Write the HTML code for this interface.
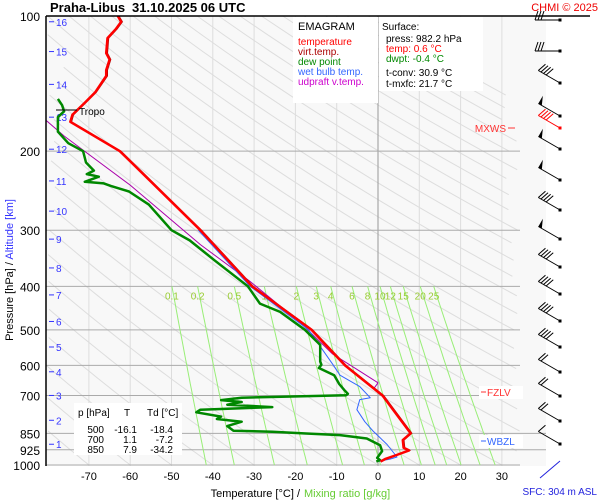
<!DOCTYPE html>
<html><head><meta charset="utf-8"><style>
body{margin:0;background:#fff;}
svg{display:block;font-family:"Liberation Sans",sans-serif;}
</style></head><body>
<svg id="c" width="600" height="500" viewBox="0 0 600 500">
<rect x="0" y="0" width="600" height="500" fill="#fff"/>
<rect x="46" y="16" width="500" height="450" fill="#f8f8f8"/>
<g id="grid"></g><g id="series"></g><g id="barbs"></g>
<line x1="46" y1="16" x2="46" y2="466" stroke="#000" stroke-width="1.5"/>
<line x1="46" y1="16" x2="590" y2="16" stroke="#000" stroke-width="1.5"/>
<text x="50" y="12" font-size="13" font-weight="bold">Praha-Libus</text>
<text x="132" y="12" font-size="13" font-weight="bold">31.10.2025 06 UTC</text>
<text x="598" y="11" font-size="11" fill="#e00" text-anchor="end">CHMI © 2025</text>
<g>
<rect x="293" y="17" width="85" height="86" fill="#fff"/>
<text x="298" y="30" font-size="11">EMAGRAM</text>
<text x="298" y="45" font-size="10" fill="#f00">temperature</text>
<text x="298" y="55" font-size="10" fill="#a00">virt.temp.</text>
<text x="298" y="65" font-size="10" fill="#080">dew point</text>
<text x="298" y="75" font-size="10" fill="#36f">wet bulb temp.</text>
<text x="298" y="85" font-size="10" fill="#c0c">udpraft v.temp.</text>
</g>
<g>
<rect x="379" y="17" width="104" height="74" fill="#fff"/>
<text x="382" y="30" font-size="10">Surface:</text>
<text x="386" y="42" font-size="10">press: 982.2 hPa</text>
<text x="386" y="52" font-size="10" fill="#f00">temp: 0.6 °C</text>
<text x="386" y="62" font-size="10" fill="#080">dwpt: -0.4 °C</text>
<text x="386" y="76" font-size="10">t-conv: 30.9 °C</text>
<text x="386" y="87" font-size="10">t-mxfc: 21.7 °C</text>
</g>
<g>
<rect x="74" y="403" width="108" height="52" fill="#fff"/>
<text x="78" y="416" font-size="10">p [hPa]</text><text x="124" y="416" font-size="10">T</text><text x="147" y="416" font-size="10">Td [°C]</text>
<text x="104" y="433" font-size="10" text-anchor="end">500</text><text x="137" y="433" font-size="10" text-anchor="end">-16.1</text><text x="173" y="433" font-size="10" text-anchor="end">-18.4</text>
<text x="104" y="443" font-size="10" text-anchor="end">700</text><text x="137" y="443" font-size="10" text-anchor="end">1.1</text><text x="173" y="443" font-size="10" text-anchor="end">-7.2</text>
<text x="104" y="453" font-size="10" text-anchor="end">850</text><text x="137" y="453" font-size="10" text-anchor="end">7.9</text><text x="173" y="453" font-size="10" text-anchor="end">-34.2</text>
</g>
<text x="300" y="497" font-size="11" text-anchor="end">Temperature [°C]  /</text>
<text x="304" y="497" font-size="11" fill="#6c3">Mixing ratio [g/kg]</text>
<text transform="translate(13,270) rotate(-90)" font-size="11" text-anchor="middle">Pressure [hPa]  /  <tspan fill="#33f">Altitude [km]</tspan></text>
<text x="597" y="495" font-size="10" fill="#22d" text-anchor="end">SFC: 304 m ASL</text>
<g><line x1="508" y1="128" x2="515" y2="128" stroke="#f33"/><text x="506" y="132" font-size="10" fill="#f33" text-anchor="end">MXWS</text></g>
<g><rect x="479" y="386" width="44" height="13" fill="#fff"/><line x1="481" y1="392" x2="486" y2="392" stroke="#f33"/><text x="487" y="396" font-size="10" fill="#f33">FZLV</text></g>
<g><rect x="479" y="435" width="44" height="13" fill="#fff"/><line x1="481" y1="441" x2="486" y2="441" stroke="#36f"/><text x="487" y="445" font-size="10" fill="#36f">WBZL</text></g>
<g><line x1="56" y1="110" x2="77" y2="110" stroke="#000"/><text x="79" y="115" font-size="10">Tropo</text></g>
</svg>
<script>
const pressTicks=[100,200,300,400,500,600,700,850,925,1000];
const tempTicks=[-70,-60,-50,-40,-30,-20,-10,0,10,20,30];
const altKm=[1,2,3,4,5,6,7,8,9,10,11,12,13,14,15,16];
const altPress=[899,795,700,620,546,479,418,364,314,272,233,198,168,142,120,103];
const mixRatios=[0.1,0.2,0.5,1,2,3,4,6,8,10,12,15,20,25];
const tempP=[100,103,107,112,121,125,132,136,148,156,166,172,200,300,400,500,600,700,850,880,915,928,950,970,982];
const tempT=[-63,-62.2,-63.5,-65.5,-65.8,-65,-65.8,-65.8,-68.5,-71,-74,-74.5,-62.5,-43,-30.5,-16.1,-8,1.1,7.9,6,6.2,7.5,4.5,1.7,0.6];
const dewP=[153,158,163,168,181,192,200,212,221,225,228,234,236,239,246,263,300,316,350,400,437,456,500,540,588,598,608,631,660,680,694,699,708,717,724,734,743,753,763,780,790,801,819,839,843,851,858,873,904,931,964,975,982];
const dewT=[-77.5,-76.5,-76,-77.5,-77.5,-75,-71.4,-70.7,-68.8,-70.5,-67.6,-71,-66.4,-64.7,-60.3,-55.5,-50,-45.6,-39.6,-31.5,-28.6,-23.7,-17.7,-14,-14,-13.7,-14.3,-10.6,-9.4,-8.2,-7.3,-7.7,-33,-38,-33,-36.5,-25.6,-43,-44,-38,-39,-33,-36.5,-35,-25.6,-17.4,-9.2,-2.7,0.5,1,-0.2,0.5,-0.4];
const wbP=[300,400,500,598,631,669,708,715,753,801,840,900,960,970,980,982];
const wbT=[-43.5,-31,-16.8,-10.9,-9.2,-4.4,-1.9,-4.4,-5.1,-3.2,-1.2,2.2,4.6,2.9,0.5,0.2];
const updP=[171,185,238,323,390,480,566,618,656,675];
const updT=[-80.3,-76,-60,-43,-31,-19,-11,-4.4,0,-1];
const barbY=[20,51,83,116,128,149,180,210,239,267,294,321,347,372,396,421,444];
const barbDir=[270,270,300,300,300,300,300,300,300,300,300,300,300,300,300,300,300];
const barbKn=[30,30,40,50,40,50,50,40,50,40,40,40,40,20,20,20,10];

const L=46,Y0=16,PX=195,T0=378,TS=4.13;
const py=p=>Y0+PX*Math.log(p/100);
const tx=t=>T0+t*TS;
const NS='http://www.w3.org/2000/svg';
function mk(tag,attrs,parent){const e=document.createElementNS(NS,tag);for(const k in attrs)e.setAttribute(k,attrs[k]);parent.appendChild(e);return e;}
const grid=document.getElementById('grid'),ser=document.getElementById('series'),bg=document.getElementById('barbs');
for(let th=-80;th<=250;th+=10){let pts=[];for(let p=100;p<=1000;p+=10){const t=(th+273.15)*Math.pow(p/1000,0.286)-273.15;const x=tx(t);if(x>=L&&x<=520)pts.push(x.toFixed(1)+','+py(p).toFixed(1));}
 if(pts.length>1){const e=mk('polyline',{points:pts.join(' '),fill:'none',stroke:'#ddd','stroke-width':1},grid);
 
 }}
tempTicks.forEach(t=>{const e=mk('line',{x1:tx(t),x2:tx(t),y1:16,y2:466,stroke:t===0?'#999':'#ddd','stroke-width':1},grid);
 
 
 const l=mk('text',{x:tx(t),y:480,'font-size':11,'text-anchor':'middle'},grid);l.textContent=t;
 
 });
pressTicks.forEach(p=>{const y=py(p);const e=mk('line',{x1:L,x2:(p>=850&&p<1000)?546:520,y1:y,y2:y,stroke:'#aaa','stroke-width':1},grid);
 
 
 const l=mk('text',{x:40,y:y+5,'font-size':12,'text-anchor':'end'},grid);l.textContent=p;
 
 });
altKm.forEach((k,i)=>{const y=py(altPress[i]);const e=mk('line',{x1:49,x2:54,y1:y,y2:y,stroke:'#33f'},grid);
 
 
 const l=mk('text',{x:56,y:y+4,'font-size':10,fill:'#33f'},grid);l.textContent=k;
 
 });
function mrT(w,p){const e=w*p/(622+w);const a=Math.log(e/6.112);return 243.5*a/(17.67-a);}
mixRatios.forEach(w=>{let pts=[];for(let p=400;p<=1000;p+=20)pts.push(tx(mrT(w,p)).toFixed(1)+','+py(p).toFixed(1));
 const e=mk('polyline',{points:pts.join(' '),fill:'none',stroke:'#9e7','stroke-width':1},grid);
 
 
 const l=mk('text',{x:tx(mrT(w,400)),y:py(400)+13,'font-size':10,fill:'#9c3','text-anchor':'middle'},grid);l.textContent=w;
 
 });
function line(P,T,col,w,name){const pts=P.map((p,i)=>tx(T[i]).toFixed(1)+','+py(p).toFixed(1)).join(' ');
 const e=mk('polyline',{points:pts,fill:'none',stroke:col,'stroke-width':w,'stroke-linejoin':'round'},ser);
 
 }
line(updP,updT,'#a0a',1,'updraft-virtual-temp-line');
line(wbP,wbT,'#36f',1,'wet-bulb-line');
line(dewP,dewT,'#080',2.5,'dewpoint-line');
line(tempP,tempT.map(t=>t+0.3),'#900',1,'virtual-temp-line');
line(tempP,tempT,'#f00',2.5,'temperature-line');
const BX=560;
barbY.forEach((y,i)=>{const a=(barbDir[i]-270)*Math.PI/180;const dx=-Math.cos(a),dy=-Math.sin(a);const len=25;
 const col=i===4?'#f00':'#000';
 const g=mk('g',{},bg);
 
 
 const ex=BX+dx*len,ey=y+dy*len;
 mk('line',{x1:BX,y1:y,x2:ex,y2:ey,stroke:col,'stroke-width':1},g);
 mk('rect',{x:BX-1.5,y:y-1.5,width:3,height:3,fill:col},g);
 let kn=barbKn[i],pos=0;
 const perp=[dy,-dx];
 function at(d){return [ex-dx*d,ey-dy*d];}
 while(kn>=50){const [x1,y1]=at(pos),[x2,y2]=at(pos+4);mk('polygon',{points:`${x1},${y1} ${x2},${y2} ${x1+perp[0]*-9},${y1+perp[1]*-9}`,fill:col},g);kn-=50;pos+=5;}
 while(kn>=10){const [x1,y1]=at(pos);mk('line',{x1:x1,y1:y1,x2:x1+perp[0]*-9-dx*3,y2:y1+perp[1]*-9-dy*3,stroke:col},g);kn-=10;pos+=3;}
});
const sfc=mk('line',{x1:540,y1:478,x2:560,y2:461,stroke:'#22d'},bg);


</script>
</body></html>
